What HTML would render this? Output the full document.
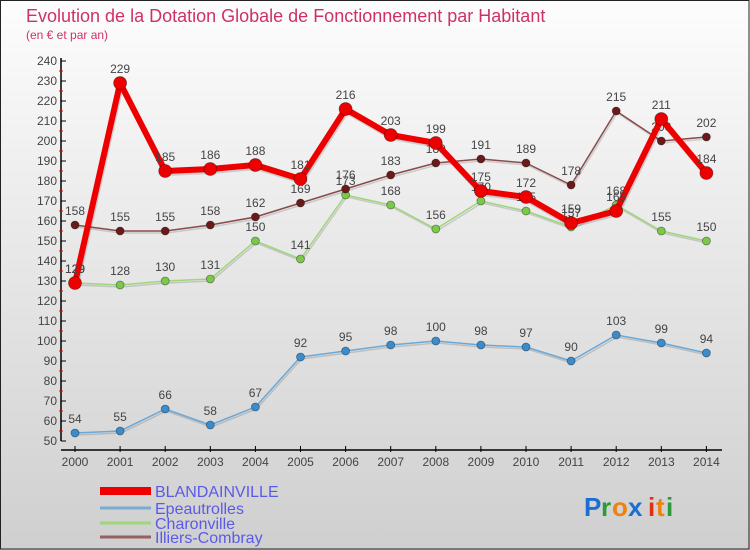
<!DOCTYPE html>
<html><head><meta charset="utf-8"><style>
body{margin:0;width:750px;height:550px;overflow:hidden;font-family:"Liberation Sans",sans-serif}
svg{display:block}
</style></head><body>
<svg id="c" width="750" height="550" xmlns="http://www.w3.org/2000/svg">
<defs><linearGradient id="bg" x1="0" y1="0" x2="0" y2="1"><stop offset="0" stop-color="#fdfdfd"/><stop offset="1" stop-color="#cfcfcf"/></linearGradient></defs>
<rect x="0" y="0" width="750" height="550" fill="url(#bg)"/>
<rect x="0.5" y="0.5" width="748.5" height="548.5" fill="none" stroke="#222"/>
<text x="26" y="22" font-size="18" fill="#d0306a">Evolution de la Dotation Globale de Fonctionnement par Habitant</text>
<text x="26" y="39" font-size="12" fill="#d0306a">(en € et par an)</text>
<g id="axes"></g><g id="series"></g><g id="legend"></g>
<g font-size="26" font-weight="bold">
<text x="584" y="516" fill="#1a6fd0">P</text><text x="601" y="516" fill="#2a9a3a">r</text><text x="612" y="516" fill="#f08010">o</text><text x="628" y="516" fill="#1a6fd0">x</text><text x="648" y="516" fill="#e03010">i</text><text x="656" y="516" fill="#f08010">t</text><text x="666" y="516" fill="#2a9a3a">i</text>
</g>
</svg>
<script>
const years=["2000","2001","2002","2003","2004","2005","2006","2007","2008","2009","2010","2011","2012","2013","2014"];
const blandainville=[129,229,185,186,188,181,216,203,199,175,172,159,165,211,184];
const epeautrolles=[54,55,66,58,67,92,95,98,100,98,97,90,103,99,94];
const charonville=[129,128,130,131,150,141,173,168,156,170,165,157,168,155,150];
const illiers=[158,155,155,158,162,169,176,183,189,191,189,178,215,200,202];
const yTicks=[50,60,70,80,90,100,110,120,130,140,150,160,170,180,190,200,210,220,230,240];
const seriesNames=["BLANDAINVILLE","Epeautrolles","Charonville","Illiers-Combray"];
const NS="http://www.w3.org/2000/svg";
const X=i=>75+i*45.1, Y=v=>441-(v-50)*2;
function mk(p,t,a){const e=document.createElementNS(NS,t);for(const k in a)e.setAttribute(k,a[k]);p.appendChild(e);return e;}
const ax=document.getElementById('axes');
let l=mk(ax,'line',{x1:61,y1:58,x2:61,y2:441,stroke:'#000','stroke-width':1.5});


l=mk(ax,'line',{x1:61,y1:450,x2:722,y2:450,stroke:'#000','stroke-width':1.5});


yTicks.forEach((v,k)=>{
 mk(ax,'line',{x1:61,y1:Y(v),x2:66,y2:Y(v),stroke:'#000'});
 if(k<yTicks.length-1) mk(ax,'line',{x1:59,y1:Y(v+5),x2:63,y2:Y(v+5),stroke:'#e00'});
 const t=mk(ax,'text',{x:57,y:Y(v)+4,'font-size':12,'text-anchor':'end',fill:'#444'});
 t.textContent=v;
 
 
});
years.forEach((y,i)=>{
 mk(ax,'line',{x1:X(i),y1:446,x2:X(i),y2:452,stroke:'#000'});
 const t=mk(ax,'text',{x:X(i),y:466,'font-size':12,'text-anchor':'middle',fill:'#444'});
 t.textContent=y;
 
 
});
const sg=document.getElementById('series');
function draw(vals,color,dot,w,r,name){
 const g=mk(sg,'g',{});
 
 
 const pts=vals.map((v,i)=>X(i)+','+Y(v)).join(' ');
 mk(g,'polyline',{points:pts,fill:'none',stroke:'rgba(0,0,0,0.15)','stroke-width':w,transform:'translate(1,2)'});
 mk(g,'polyline',{points:pts,fill:'none',stroke:color,'stroke-width':w,'stroke-linejoin':'round'});
 vals.forEach((v,i)=>{
  const c=mk(g,'circle',{cx:X(i),cy:Y(v),r:r,fill:dot,stroke:'rgba(0,0,0,0.4)','stroke-width':0.8});
  
  
  const t=mk(g,'text',{x:X(i),y:Y(v)-10,'font-size':12,'text-anchor':'middle',fill:'#444'});
  t.textContent=v;
  
  
 });
}
draw(epeautrolles,'#6aa8d8','#3b8ccc',1.5,4,'epeautrolles');
draw(charonville,'#9ed67a','#7cc84a',1.5,4,'charonville');
draw(illiers,'#8a4a4a','#6b1a1a',1.5,4,'illiers-combray');
draw(blandainville,'#ee0000','#ee0000',6,6.5,'blandainville');
const lg=document.getElementById('legend');
const lc=['#ee0000','#7aaed0','#9ed67a','#946060'],lw=[8,3,3,3],ly=[491,508,523,537];
seriesNames.forEach((n,i)=>{
 const g=mk(lg,'g',{});
 
 
 mk(g,'line',{x1:100,y1:ly[i],x2:151,y2:ly[i],stroke:lc[i],'stroke-width':lw[i]});
 const t=mk(g,'text',{x:155,y:ly[i]+6,'font-size':16,fill:'#5a5ae8'});
 t.textContent=n;
});
</script>
</body></html>
